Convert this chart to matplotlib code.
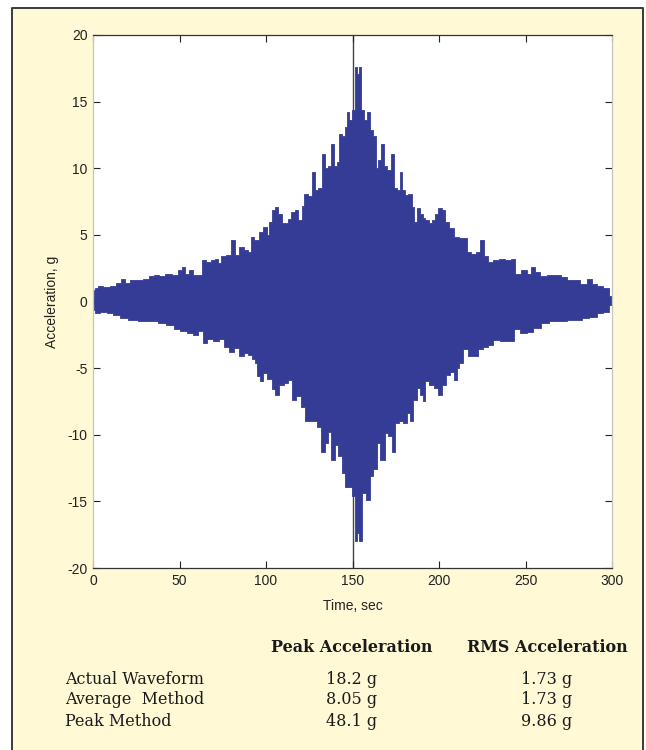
import matplotlib
matplotlib.use("Agg")
import matplotlib.pyplot as plt
from matplotlib.patches import Rectangle

# --- data ------------------------------------------------------------------
# upper envelope of the acceleration record (time in s, acceleration in g)
t_up = [0.0, 0.6, 2.1, 4.0, 7.9, 11.8, 14.7, 17.5, 19.5, 23.3,
        27.2, 31.0, 34.0, 36.8, 39.7, 43.6, 47.4, 50.3, 52.6, 54.2,
        57.0, 59.0, 61.9, 63.8, 66.7, 69.2, 71.5, 73.4, 75.0, 78.2,
        81.5, 83.0, 85.9, 88.8, 90.7, 91.7, 94.6, 97.5, 99.4, 101.3,
        102.3, 104.2, 106.2, 108.1, 110.0, 112.0, 113.0, 116.0, 117.7, 119.6,
        121.5, 123.0, 125.4, 127.7, 129.3, 131.2, 133.1, 134.6, 137.0, 138.5,
        140.4, 141.8, 143.1, 144.7, 146.6, 147.6, 148.5, 150.4, 152.0, 153.3,
        154.3, 155.8, 157.2, 159.3, 160.5, 163.0, 164.0, 165.9, 167.4, 168.8,
        170.7, 173.6, 174.6, 176.5, 178.1, 179.4, 181.4, 183.3, 185.2, 186.2,
        188.1, 190.0, 191.0, 193.0, 195.0, 196.8, 198.8, 200.6, 202.6, 204.5,
        207.3, 210.2, 213.1, 215.6, 217.0, 219.8, 222.7, 225.0, 226.6, 229.5,
        233.3, 236.2, 240.1, 243.0, 245.3, 249.7, 252.6, 254.1, 256.4, 260.3,
        264.1, 269.0, 271.8, 275.7, 279.5, 283.4, 287.2, 290.1, 293.0, 296.8,
        300.0]
a_up = [0.3, 0.9, 1.05, 1.2, 1.1, 1.2, 1.4, 1.7, 1.4, 1.6,
        1.65, 1.7, 1.9, 2.0, 1.9, 2.05, 2.0, 2.35, 2.6, 2.1,
        2.4, 2.0, 2.0, 3.1, 3.0, 3.1, 3.2, 2.9, 3.4, 3.5,
        4.6, 3.5, 4.1, 3.9, 3.75, 4.85, 4.6, 5.2, 5.6, 5.0,
        6.0, 6.9, 7.1, 6.6, 5.9, 5.9, 6.2, 6.7, 6.9, 6.1,
        7.2, 8.1, 7.9, 9.7, 8.4, 8.5, 11.1, 10.0, 10.2, 11.8,
        10.2, 10.5, 12.6, 12.4, 13.1, 14.2, 13.6, 14.4, 17.6, 17.1,
        17.6, 14.4, 13.6, 14.2, 12.9, 12.4, 10.0, 10.6, 11.8, 10.2,
        9.9, 11.1, 8.5, 8.4, 9.7, 8.4, 8.0, 8.1, 7.1, 6.0,
        7.0, 6.6, 6.3, 6.1, 5.9, 6.1, 6.6, 7.0, 6.9, 6.0,
        5.5, 4.85, 4.75, 4.8, 3.7, 3.6, 3.7, 4.6, 3.4, 3.0,
        3.1, 3.2, 3.1, 3.2, 2.1, 2.4, 2.1, 2.6, 2.2, 1.9,
        2.0, 2.0, 1.85, 1.65, 1.6, 1.35, 1.7, 1.35, 1.15, 1.05,
        0.4]

# lower envelope
t_lo = [0.0, 0.6, 2.1, 6.0, 9.8, 13.7, 17.5, 23.3, 29.1, 34.9,
        39.7, 44.5, 48.8, 52.2, 56.1, 59.0, 61.9, 64.7, 67.6, 71.5,
        74.4, 77.2, 80.1, 83.0, 85.9, 88.8, 90.7, 92.6, 94.6, 95.5,
        97.5, 99.4, 102.3, 104.2, 106.2, 109.0, 112.0, 113.9, 115.8, 118.7,
        121.6, 123.1, 125.4, 128.3, 130.2, 133.1, 135.0, 137.0, 138.5, 140.8,
        142.7, 144.7, 146.2, 148.5, 150.4, 152.0, 153.3, 154.3, 156.2, 159.1,
        161.0, 163.0, 164.9, 167.4, 169.7, 171.7, 173.6, 175.5, 178.4, 180.3,
        182.3, 184.2, 186.1, 188.1, 190.0, 191.0, 193.0, 195.8, 198.8, 200.4,
        202.6, 205.5, 207.4, 209.4, 211.3, 212.2, 215.0, 218.0, 220.9, 223.7,
        226.6, 229.5, 233.3, 237.2, 242.0, 244.9, 248.8, 252.6, 256.4, 261.3,
        266.1, 271.8, 275.7, 280.5, 284.3, 289.2, 293.0, 296.8, 300.0]
a_lo = [-0.3, -0.63, -0.84, -0.8, -0.88, -1.0, -1.26, -1.4, -1.43, -1.5,
        -1.6, -1.75, -2.1, -2.2, -2.4, -2.5, -2.2, -3.1, -2.8, -3.0,
        -2.8, -3.4, -3.8, -3.5, -4.1, -3.9, -4.0, -4.3, -4.6, -5.6,
        -6.0, -5.4, -5.8, -6.6, -7.0, -6.3, -6.1, -5.9, -7.4, -7.1,
        -7.9, -9.0, -9.0, -9.0, -9.4, -11.3, -10.6, -9.8, -11.9, -10.8,
        -11.6, -12.9, -13.9, -13.9, -14.6, -18.0, -17.4, -18.0, -14.4, -14.9,
        -13.1, -12.6, -10.6, -11.9, -9.9, -10.1, -11.3, -9.1, -9.0, -9.1,
        -8.4, -9.0, -7.4, -6.5, -7.0, -7.5, -6.0, -6.3, -6.5, -7.0,
        -6.3, -5.5, -5.3, -5.9, -5.0, -4.6, -3.6, -4.1, -4.1, -3.6,
        -3.4, -3.3, -2.9, -3.0, -3.0, -2.1, -2.4, -2.3, -2.0, -1.6,
        -1.5, -1.5, -1.4, -1.4, -1.26, -1.13, -0.88, -0.76, -0.25]

assert len(t_up) == len(a_up) and len(t_lo) == len(a_lo)

marker_t = 150.0   # vertical marker line

# summary table
col_heads = ["Peak Acceleration", "RMS Acceleration"]
row_labels = ["Actual Waveform", "Average  Method", "Peak Method"]
peak_vals = ["18.2 g", "8.05 g", "48.1 g"]
rms_vals = ["1.73 g", "1.73 g", "9.86 g"]

# --- figure -----------------------------------------------------------------
BLUE = "#353C95"
PANEL = "#FFF9D5"
FRAME = "#3a3a3a"
plt.rcParams["axes.unicode_minus"] = False

fig = plt.figure(figsize=(6.46, 7.5), dpi=100)
fig.patch.set_facecolor("white")

# framed yellow panel (open at the bottom, as in the original)
x0, x1, ytop = 12 / 646, 643 / 646, 1 - 8 / 750
fig.add_artist(Rectangle((x0, 0), x1 - x0, ytop, transform=fig.transFigure,
                         facecolor=PANEL, edgecolor="none", zorder=0))
fig.add_artist(plt.Line2D([x0, x0, x1, x1], [0, ytop, ytop, 0],
                          transform=fig.transFigure, color=FRAME, lw=1.4))

ax = fig.add_axes([93 / 646, 1 - 568 / 750, 519 / 646, 533 / 750])
ax.set_facecolor("white")

ax.axvline(marker_t, color="#444444", lw=1.0, zorder=1)
ax.fill_between(t_up, 0, a_up, step="mid", color=BLUE, lw=0.6,
                edgecolor=BLUE, zorder=2)
ax.fill_between(t_lo, a_lo, 0, step="mid", color=BLUE, lw=0.6,
                edgecolor=BLUE, zorder=2)

ax.set_xlim(0, 300)
ax.set_ylim(-20, 20)
ax.set_xticks(range(0, 301, 50))
ax.set_yticks(range(-20, 21, 5))
ax.tick_params(direction="in", length=5, width=0.8, top=True, right=True,
               labelsize=10, colors="#222222", pad=4)
for s in ("top", "bottom"):
    ax.spines[s].set_color("#333333")
for s in ("left", "right"):
    ax.spines[s].set_color("#c4c4c4")
for s in ax.spines.values():
    s.set_linewidth(0.9)
for lab in ax.get_xticklabels() + ax.get_yticklabels():
    lab.set_fontfamily("Liberation Sans")

ax.set_xlabel("Time, sec", fontsize=10, family="Liberation Sans",
              color="#222222", labelpad=8)
ax.set_ylabel("Acceleration, g", fontsize=10, family="Liberation Sans",
              color="#222222", labelpad=6)

# --- table below the plot ------------------------------------------------
col_x = [352 / 646, 547 / 646]
head_y = 1 - 647 / 750
row_y = [1 - 679 / 750, 1 - 699 / 750, 1 - 721 / 750]
serif = "DejaVu Serif"
for x, h in zip(col_x, col_heads):
    fig.text(x, head_y, h, ha="center", va="center", fontsize=11.5,
             fontweight="bold", family=serif, color="#1a1a1a")
for y, lab, pk, rm in zip(row_y, row_labels, peak_vals, rms_vals):
    fig.text(65 / 646, y, lab, ha="left", va="center", fontsize=11.5,
             family=serif, color="#1a1a1a")
    fig.text(col_x[0], y, pk, ha="center", va="center", fontsize=11.5,
             family=serif, color="#1a1a1a")
    fig.text(col_x[1], y, rm, ha="center", va="center", fontsize=11.5,
             family=serif, color="#1a1a1a")

fig.savefig("out.png", dpi=100)
